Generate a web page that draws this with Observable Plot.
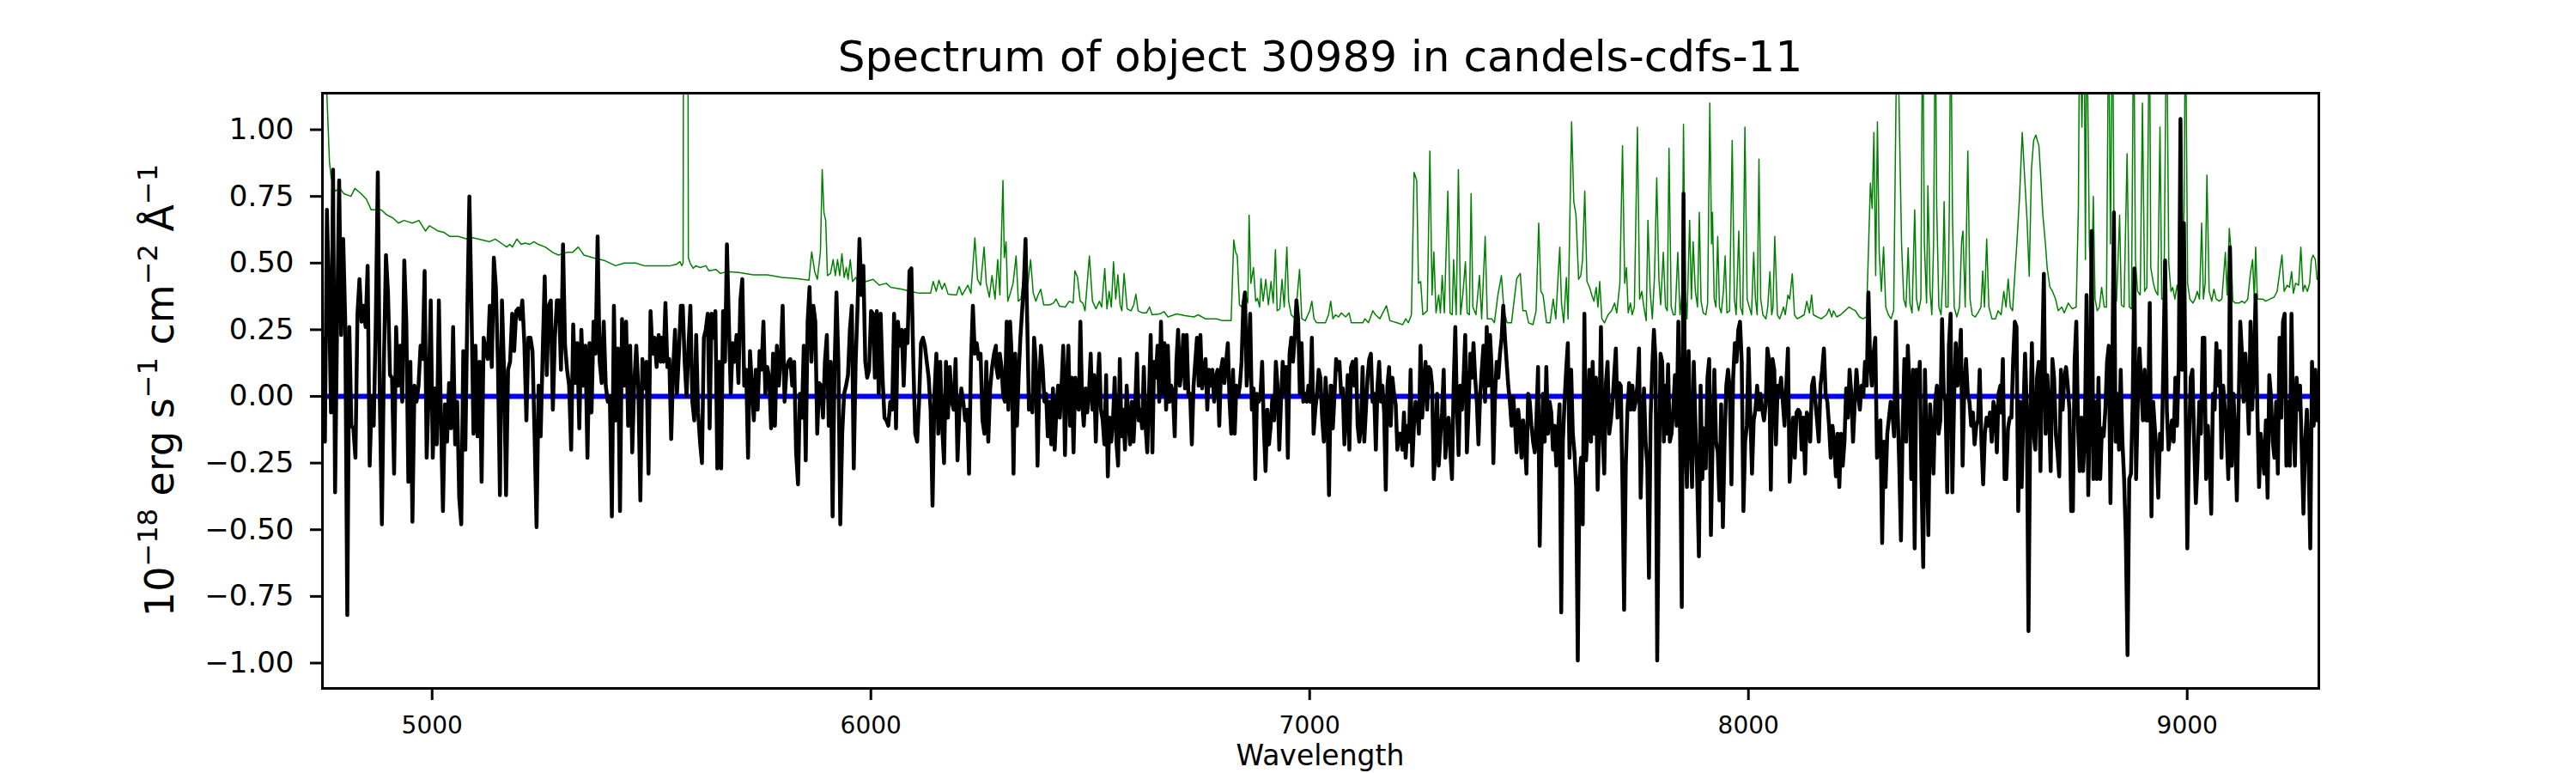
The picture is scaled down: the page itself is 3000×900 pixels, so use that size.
<!DOCTYPE html>
<html><head><meta charset="utf-8">
<script src="https://cdn.jsdelivr.net/npm/d3@7"></script>
<script src="https://cdn.jsdelivr.net/npm/@observablehq/plot@0.6"></script>
<style>html,body{margin:0;padding:0;background:#fff;} svg{display:block;}</style>
</head><body><div id="chart"></div>
<script>
const titleText = "Spectrum of object 30989 in candels-cdfs-11";
const xLabelText = "Wavelength";
const xTicks = [5000, 6000, 7000, 8000, 9000];
const yTicks = [-1, -0.75, -0.5, -0.25, 0, 0.25, 0.5, 0.75, 1];
const xDomain = [4750, 9300];
const yDomain = [-1.095, 1.137];
const zeroLevel = [0];

// wavelength span covered by each flux block (Å)
const segmentRanges = [[4751, 5521], [5523, 6285], [6286, 7048], [7049, 7811], [7813, 8574], [8576, 9300]];

const fluxA = [0.22,-0.17,0.70,0.38,-0.06,0.85,-0.36,0.28,0.81,0.23,0.59,0.28,-0.82,0.26,-0.11,-0.12,-0.23,0.31,0.44,0.28,0.34,0.26,0.49,-0.26,0.00,-0.11,0.28,0.84,-0.02,-0.48,0.13,0.53,0.39,0.08,0.07,-0.29,0.26,0.04,0.19,-0.02,0.51,0.28,-0.32,0.13,-0.47,0.04,-0.02,0.04,0.19,0.14,0.47,-0.23,0.01,0.36,-0.23,0.03,-0.18,0.36,-0.08,-0.43,-0.03,-0.17,0.05,-0.12,0.26,-0.18,-0.02,-0.38,-0.48,0.17,-0.20,0.33,0.75,0.34,-0.14,0.19,-0.15,0.13,-0.32,0.22,0.17,0.14,0.34,0.11,0.52,0.41,0.13,-0.37,0.36,0.10,-0.37,0.10,0.13,0.31,0.17,0.32,0.33,0.29,0.36,0.20,-0.09,0.22,0.22,0.17,-0.14,-0.49,0.04,-0.15,0.16,0.45,0.08,0.34,0.36,-0.05,0.22,0.36,0.36,0.10,0.57,0.19,0.10,0.04,-0.20,0.27,0.05,0.20,-0.12,0.25,0.04,0.19,-0.23,0.20,-0.06,0.28,0.16,0.60,0.13,0.05,0.28,0.04,-0.02,0.00,-0.45,0.34,-0.09,0.18,-0.43,0.29,0.04,0.28,-0.11,0.19,-0.21,0.05,0.19,0.03,-0.39,0.14,0.03,0.13,-0.29,0.32,0.16,0.22,0.11,0.23,0.13];
const fluxB = [0.22,0.13,0.35,0.11,0.14,-0.16,0.10,0.25,0.01,0.16,0.34,0.34,0.13,0.00,0.19,0.34,-0.02,-0.09,0.23,-0.06,-0.17,-0.25,0.22,0.25,0.31,-0.12,0.31,0.22,0.32,-0.27,0.13,-0.27,0.32,0.13,0.57,0.28,0.01,0.20,0.13,0.23,0.05,0.36,0.44,0.04,0.10,-0.23,0.17,0.04,-0.09,0.10,-0.05,0.17,0.10,0.28,0.01,0.11,0.07,-0.12,0.16,-0.11,0.19,0.04,0.14,0.34,-0.02,0.10,0.13,0.14,0.04,0.13,-0.21,-0.33,0.01,-0.08,0.19,-0.24,0.28,0.41,0.13,0.34,0.28,-0.14,0.05,0.04,-0.08,0.13,0.23,-0.11,0.13,-0.45,0.10,0.39,0.13,-0.48,-0.14,0.01,0.04,0.08,0.25,0.34,-0.27,0.13,0.34,0.59,0.38,0.49,0.13,0.07,0.10,0.32,0.31,0.07,0.32,0.01,0.31,0.07,-0.08,-0.09,-0.11,-0.02,-0.05,0.31,-0.12,0.28,0.19,0.25,0.04,0.25,0.20,0.47,0.48,0.13,-0.14,-0.17,-0.02,0.20,0.22,0.19,0.13,0.07,-0.05,-0.41,0.01,0.16,-0.14,0.13,-0.11,-0.25,0.13,-0.08,0.11,-0.02,-0.05,0.14,-0.24,-0.05,0.03,-0.02,-0.09,-0.05,-0.29,0.13,0.34,0.16,0.20,0.14,0.16,-0.09,-0.14,0.13,-0.17,0.03,0.11,0.16,0.19];
const fluxC = [0.11,0.07,0.16,0.11,0.00,-0.02,0.28,-0.05,0.28,0.14,-0.29,0.16,-0.11,0.08,0.22,0.32,0.42,0.59,0.28,-0.05,-0.02,-0.06,0.22,0.13,-0.26,0.04,0.19,0.11,-0.02,0.01,-0.15,-0.02,-0.18,0.03,-0.20,-0.05,0.04,-0.08,0.04,0.19,-0.22,0.05,0.19,-0.11,0.07,-0.21,0.07,-0.02,-0.05,0.28,-0.02,-0.11,0.03,-0.06,0.01,0.16,-0.05,0.08,-0.17,0.04,0.16,-0.05,-0.09,-0.18,0.08,-0.30,-0.08,-0.17,-0.09,0.07,-0.17,-0.26,0.14,-0.15,-0.05,-0.20,0.04,-0.09,-0.18,-0.02,-0.17,-0.03,0.16,-0.09,-0.05,-0.12,0.11,-0.11,-0.21,0.01,0.23,-0.21,0.13,0.07,0.19,-0.02,0.28,0.01,0.20,-0.05,0.19,-0.02,0.04,0.01,-0.15,0.13,0.25,0.04,0.10,0.23,0.03,0.23,0.00,0.01,-0.18,0.04,0.13,0.22,0.04,0.23,0.03,0.10,0.14,-0.05,0.10,0.04,0.10,-0.02,0.07,0.10,-0.11,0.10,0.14,0.05,0.13,0.20,-0.02,-0.14,0.10,-0.14,0.04,0.00,0.04,0.13,0.34,0.39,0.04,0.13,0.31,-0.05,0.03,-0.31,0.01,-0.02,0.00,0.13,-0.12,-0.28,-0.05,-0.18,-0.11,0.00,-0.09,0.13,0.04,-0.20,-0.02,0.13,0.01,0.11,-0.23,0.16,0.22,0.13,0.22,0.36,0.29,0.01,0.20,-0.02,0.01,-0.02,0.04,-0.02,0.22,-0.14,-0.05,0.01,0.10,0.07,-0.08,-0.17,0.07,-0.05,-0.37,0.04];
const fluxD = [0.04,-0.12,0.00,0.14,0.10,0.13,0.01,0.03,-0.18,-0.06,0.08,-0.20,0.11,0.13,0.04,0.14,-0.11,-0.17,-0.11,0.11,-0.17,-0.05,0.07,0.14,0.16,-0.02,0.01,-0.20,0.04,0.13,-0.02,0.04,-0.06,-0.35,0.04,0.11,-0.11,0.07,0.01,-0.03,-0.20,-0.14,-0.14,-0.20,-0.06,-0.23,-0.11,-0.17,0.10,-0.26,-0.11,-0.02,-0.05,-0.14,0.19,-0.08,0.04,0.13,-0.05,0.11,0.10,0.04,-0.31,-0.20,0.01,-0.26,-0.15,-0.06,0.10,-0.23,-0.12,-0.08,-0.21,-0.31,0.04,0.26,-0.05,-0.22,0.04,-0.05,0.07,0.23,-0.21,-0.05,0.16,0.07,0.20,0.07,-0.02,-0.18,0.00,0.10,0.19,-0.02,0.26,0.04,0.23,0.10,-0.25,0.00,0.13,0.07,0.16,0.22,0.34,0.22,0.13,0.04,-0.02,-0.11,0.00,-0.09,-0.21,-0.05,-0.11,-0.23,-0.09,-0.17,-0.29,0.01,-0.02,-0.11,-0.17,-0.21,-0.09,0.11,-0.56,-0.21,0.01,-0.17,0.11,-0.14,-0.02,-0.06,-0.20,-0.11,-0.26,-0.14,-0.03,-0.81,-0.17,-0.02,0.10,0.20,-0.23,0.10,-0.14,-0.21,-0.34,-0.99,-0.31,-0.23,-0.48,0.31,-0.24,-0.11,0.10,-0.17,0.13,-0.14,0.07,-0.35,-0.11,0.26,-0.14,-0.29,0.05,0.13,-0.14,-0.09,-0.02,0.08,0.18,-0.08,0.05,0.04,-0.33,-0.80,-0.26,-0.05,0.05,-0.05,0.04,-0.05,-0.02,0.04,0.18,-0.38,-0.14,0.03,-0.17,-0.26,-0.68,-0.08,0.11,0.25,0.13,-0.99,-0.31,0.16,0.13,-0.17,0.04];
const fluxE = [-0.14,0.12,-0.17,-0.14,-0.05,0.08,-0.11,0.28,-0.14,-0.79,0.76,-0.14,-0.34,0.17,-0.14,-0.34,0.13,-0.11,-0.31,-0.60,0.04,-0.31,-0.12,-0.27,0.07,0.14,-0.52,-0.17,0.10,-0.17,-0.21,-0.39,-0.03,-0.49,-0.17,0.04,0.10,0.03,-0.33,0.07,0.20,0.13,0.25,0.28,0.13,-0.43,-0.17,-0.11,0.18,-0.06,-0.29,-0.09,-0.05,0.04,-0.05,0.01,-0.05,-0.09,-0.03,0.18,0.13,-0.35,0.14,0.10,-0.18,0.04,0.01,0.07,-0.02,-0.11,0.04,0.18,-0.32,-0.17,-0.08,-0.23,-0.06,-0.05,-0.06,-0.20,-0.08,-0.29,-0.06,-0.08,-0.17,0.04,0.07,-0.02,-0.09,-0.17,0.04,0.10,0.18,0.01,-0.02,-0.11,-0.23,-0.11,-0.17,-0.30,-0.14,-0.34,-0.14,-0.26,-0.17,0.03,-0.08,0.10,0.01,-0.17,-0.03,0.10,0.01,-0.05,0.04,0.00,0.13,0.04,0.39,0.13,0.04,0.16,0.22,-0.23,-0.11,-0.09,-0.55,-0.17,-0.34,-0.14,-0.08,-0.02,-0.06,-0.15,0.28,-0.03,-0.26,-0.54,-0.11,0.14,-0.17,0.19,0.03,-0.31,0.10,-0.57,0.10,0.01,0.13,-0.31,-0.64,0.10,-0.20,-0.52,-0.03,-0.14,-0.29,-0.02,0.04,-0.14,-0.09,0.29,0.01,-0.02,-0.36,0.19,0.31,-0.36,-0.02,0.20,0.04,0.13,0.25,-0.26,0.04,0.14,0.01,-0.02,-0.11,-0.06,-0.18,-0.11,-0.09,0.10,-0.17,-0.33,-0.14,-0.08,-0.11,-0.06,-0.17,-0.02,-0.05,-0.21,0.01,0.04];
const fluxF = [-0.06,0.14,-0.31,-0.31,-0.12,-0.08,-0.08,0.13,0.28,0.26,-0.43,-0.02,-0.34,-0.06,0.16,-0.05,-0.88,-0.12,0.20,-0.14,-0.20,0.07,0.13,-0.28,0.14,0.46,-0.14,0.08,-0.05,-0.28,0.14,0.07,-0.14,-0.21,-0.30,0.10,-0.05,0.07,0.11,0.04,-0.05,-0.43,-0.43,0.13,0.28,-0.11,-0.28,-0.08,-0.28,-0.14,0.38,-0.37,-0.05,0.62,-0.31,-0.02,-0.31,0.07,-0.31,-0.12,-0.15,-0.05,0.13,0.19,-0.40,0.05,0.69,-0.17,0.01,-0.20,0.10,-0.17,-0.31,-0.54,-0.97,-0.31,-0.29,-0.02,0.48,-0.31,-0.02,0.18,0.04,-0.09,0.10,-0.09,-0.09,0.35,-0.45,-0.02,-0.12,-0.21,-0.38,-0.14,-0.20,0.13,0.51,-0.05,-0.20,-0.14,-0.09,-0.17,0.07,-0.11,0.13,1.04,0.10,0.65,-0.02,-0.57,-0.17,0.07,0.10,-0.17,-0.40,-0.24,-0.02,-0.14,0.22,0.22,-0.31,-0.11,-0.23,-0.44,0.01,-0.05,0.20,0.04,0.17,-0.23,0.04,-0.05,-0.14,-0.31,0.56,-0.26,0.01,-0.14,-0.39,-0.05,0.28,0.16,-0.02,0.16,0.04,-0.14,0.28,-0.05,0.13,0.38,-0.05,-0.34,-0.14,-0.21,-0.29,-0.09,-0.38,0.08,0.00,-0.17,-0.23,-0.02,-0.29,0.22,-0.08,0.28,0.31,-0.26,-0.02,-0.26,0.31,-0.09,-0.26,0.07,-0.05,0.04,-0.20,-0.44,-0.17,-0.05,-0.24,-0.57,0.13,-0.11,0.10,-0.09,0.07];

// noise (error) spectrum: [wavelength, value]
const noisePairs = [
[4751,1.60],[4760,1.14],[4766,0.88],[4770,0.82],[4779,0.77],[4790,0.78],[4799,0.76],[4815,0.75],[4824,0.78],[4838,0.76],[4850,0.74],[4861,0.70],[4871,0.70],[4884,0.70],[4897,0.68],[4910,0.67],[4923,0.65],[4936,0.66],[4945,0.655],[4955,0.65],[4970,0.66],[4985,0.62],[4994,0.64],[5014,0.62],[5027,0.615],[5040,0.60],[5060,0.60],[5079,0.59],[5092,0.595],[5105,0.59],[5131,0.58],[5144,0.59],[5157,0.575],[5170,0.56],[5177,0.57],[5183,0.56],[5193,0.59],[5203,0.57],[5212,0.575],[5222,0.57],[5232,0.58],[5242,0.57],[5258,0.56],[5275,0.54],[5288,0.53],[5307,0.54],[5320,0.54],[5333,0.56],[5346,0.53],[5366,0.52],[5392,0.51],[5418,0.49],[5438,0.50],[5464,0.50],[5483,0.49],[5503,0.49],[5523,0.49],[5543,0.49],[5556,0.495],[5565,0.505],[5569,0.49],[5572,0.50],[5574,2.5],[5582,2.5],[5584,0.52],[5588,0.50],[5595,0.48],[5601,0.49],[5611,0.483],[5624,0.49],[5631,0.471],[5647,0.476],[5657,0.461],[5673,0.468],[5699,0.465],[5732,0.456],[5764,0.456],[5797,0.446],[5829,0.442],[5859,0.436],[5865,0.542],[5872,0.468],[5878,0.439],[5885,0.542],[5889,0.85],[5893,0.69],[5897,0.66],[5901,0.453],[5908,0.461],[5914,0.513],[5919,0.453],[5924,0.513],[5929,0.453],[5934,0.535],[5939,0.446],[5944,0.483],[5948,0.439],[5953,0.513],[5958,0.431],[5966,0.446],[5972,0.424],[5979,0.439],[5989,0.431],[6005,0.439],[6019,0.417],[6035,0.424],[6045,0.409],[6071,0.402],[6090,0.394],[6110,0.387],[6136,0.387],[6142,0.431],[6149,0.394],[6155,0.436],[6162,0.402],[6168,0.424],[6176,0.383],[6195,0.380],[6201,0.412],[6208,0.380],[6221,0.417],[6228,0.387],[6237,0.594],[6243,0.439],[6250,0.417],[6258,0.560],[6263,0.424],[6270,0.372],[6276,0.453],[6283,0.365],[6289,0.513],[6294,0.380],[6301,0.81],[6304,0.52],[6308,0.58],[6312,0.357],[6319,0.394],[6324,0.424],[6331,0.527],[6336,0.357],[6342,0.365],[6346,0.417],[6350,0.394],[6358,0.424],[6364,0.513],[6370,0.387],[6376,0.357],[6381,0.380],[6387,0.402],[6394,0.343],[6407,0.343],[6416,0.350],[6422,0.365],[6430,0.338],[6443,0.335],[6452,0.357],[6461,0.350],[6465,0.471],[6471,0.446],[6477,0.357],[6483,0.350],[6488,0.321],[6498,0.527],[6505,0.357],[6513,0.328],[6521,0.357],[6526,0.335],[6533,0.480],[6538,0.328],[6543,0.394],[6548,0.335],[6553,0.505],[6558,0.365],[6563,0.456],[6568,0.343],[6572,0.321],[6577,0.461],[6584,0.328],[6593,0.321],[6599,0.343],[6604,0.383],[6609,0.321],[6619,0.313],[6628,0.313],[6635,0.335],[6641,0.306],[6658,0.309],[6668,0.318],[6677,0.298],[6697,0.309],[6716,0.303],[6736,0.298],[6746,0.306],[6762,0.291],[6788,0.291],[6801,0.284],[6821,0.284],[6827,0.586],[6831,0.542],[6835,0.527],[6840,0.343],[6845,0.335],[6852,0.394],[6859,0.350],[6862,0.68],[6866,0.424],[6872,0.483],[6877,0.357],[6881,0.368],[6886,0.335],[6889,0.442],[6894,0.357],[6900,0.439],[6906,0.343],[6912,0.431],[6917,0.350],[6922,0.55],[6926,0.321],[6932,0.328],[6937,0.439],[6942,0.335],[6948,0.56],[6952,0.357],[6958,0.306],[6967,0.291],[6977,0.476],[6982,0.291],[6990,0.284],[7000,0.321],[7005,0.357],[7010,0.291],[7016,0.276],[7026,0.276],[7036,0.276],[7043,0.306],[7048,0.357],[7053,0.291],[7059,0.306],[7066,0.298],[7072,0.313],[7082,0.298],[7090,0.313],[7095,0.276],[7108,0.276],[7121,0.276],[7126,0.291],[7134,0.276],[7144,0.321],[7150,0.306],[7160,0.291],[7175,0.34],[7183,0.284],[7199,0.276],[7212,0.269],[7219,0.291],[7225,0.276],[7232,0.306],[7238,0.84],[7244,0.81],[7248,0.424],[7253,0.431],[7258,0.306],[7268,0.321],[7274,0.92],[7279,0.380],[7283,0.542],[7288,0.313],[7294,0.380],[7298,0.313],[7302,0.453],[7307,0.313],[7315,0.77],[7320,0.313],[7325,0.306],[7328,0.513],[7334,0.306],[7339,0.85],[7344,0.306],[7349,0.380],[7355,0.505],[7359,0.313],[7364,0.306],[7368,0.76],[7372,0.335],[7379,0.306],[7387,0.453],[7392,0.291],[7400,0.60],[7405,0.291],[7415,0.291],[7421,0.276],[7429,0.380],[7437,0.453],[7443,0.321],[7450,0.276],[7460,0.276],[7472,0.442],[7480,0.461],[7486,0.321],[7493,0.321],[7499,0.276],[7509,0.269],[7516,0.321],[7522,0.65],[7527,0.394],[7532,0.380],[7540,0.276],[7548,0.276],[7555,0.365],[7561,0.291],[7570,0.56],[7574,0.350],[7579,0.276],[7585,0.446],[7589,0.291],[7597,1.03],[7602,0.73],[7607,0.68],[7613,0.439],[7618,0.453],[7622,0.513],[7627,0.77],[7632,0.431],[7638,0.409],[7643,0.380],[7648,0.357],[7653,0.409],[7657,0.335],[7661,0.431],[7666,0.291],[7672,0.276],[7680,0.306],[7688,0.321],[7695,0.350],[7700,0.313],[7707,0.424],[7713,0.94],[7718,0.424],[7722,0.483],[7726,0.313],[7731,0.350],[7735,0.306],[7740,0.335],[7747,1.01],[7752,0.365],[7757,0.394],[7761,0.343],[7767,0.284],[7771,0.66],[7776,0.394],[7781,0.291],[7786,0.453],[7791,0.82],[7796,0.439],[7800,0.343],[7806,0.54],[7811,0.335],[7815,0.321],[7819,0.93],[7824,0.335],[7829,0.306],[7833,0.306],[7839,0.54],[7844,0.306],[7849,0.394],[7852,1.02],[7856,0.394],[7860,0.291],[7866,0.66],[7870,0.365],[7874,0.58],[7879,0.394],[7884,0.335],[7888,0.69],[7892,0.357],[7897,0.313],[7903,0.306],[7907,0.350],[7912,1.10],[7916,0.572],[7918,0.69],[7922,0.365],[7926,0.335],[7930,0.60],[7934,0.335],[7938,0.313],[7943,0.394],[7947,0.527],[7951,0.313],[7957,0.321],[7963,0.96],[7968,0.365],[7972,0.306],[7978,0.62],[7982,0.335],[7987,0.306],[7992,1.01],[7997,0.365],[8002,0.335],[8007,0.306],[8012,0.54],[8016,0.365],[8020,0.306],[8024,0.89],[8028,0.365],[8033,0.306],[8040,0.291],[8044,0.335],[8049,0.468],[8053,0.306],[8056,0.335],[8060,0.60],[8066,0.306],[8071,0.291],[8076,0.313],[8080,0.335],[8084,0.306],[8090,0.380],[8094,0.365],[8100,0.46],[8105,0.306],[8111,0.291],[8119,0.298],[8127,0.306],[8133,0.357],[8139,0.313],[8144,0.380],[8148,0.306],[8157,0.298],[8166,0.291],[8178,0.306],[8184,0.328],[8190,0.298],[8194,0.321],[8201,0.298],[8210,0.306],[8220,0.321],[8229,0.335],[8236,0.328],[8244,0.321],[8253,0.298],[8261,0.291],[8269,0.298],[8274,0.572],[8278,0.80],[8282,0.705],[8286,0.99],[8290,0.453],[8294,1.03],[8298,0.542],[8303,0.394],[8308,0.56],[8313,0.335],[8319,0.306],[8325,0.291],[8331,0.321],[8339,1.5],[8346,0.84],[8349,0.572],[8354,0.365],[8359,0.335],[8364,0.557],[8368,0.350],[8373,0.313],[8379,0.70],[8383,0.365],[8388,0.321],[8393,0.365],[8397,1.5],[8401,0.572],[8406,0.350],[8409,0.79],[8414,0.394],[8418,0.306],[8422,0.572],[8426,1.5],[8429,0.72],[8434,0.335],[8439,0.306],[8443,0.453],[8446,0.73],[8450,0.335],[8455,0.335],[8458,0.72],[8461,1.5],[8465,0.69],[8469,0.335],[8475,0.298],[8481,0.335],[8486,0.586],[8489,0.62],[8494,0.335],[8500,0.92],[8505,0.365],[8510,0.306],[8517,0.298],[8523,0.313],[8530,0.335],[8534,0.47],[8538,0.335],[8543,0.59],[8548,0.335],[8555,0.291],[8563,0.291],[8569,0.321],[8576,0.306],[8582,0.394],[8587,0.335],[8592,0.44],[8597,0.335],[8602,0.321],[8607,0.453],[8612,0.58],[8618,0.75],[8624,0.99],[8629,0.84],[8635,0.66],[8640,0.45],[8645,0.85],[8650,0.96],[8655,0.98],[8662,0.94],[8666,0.83],[8671,0.68],[8677,0.57],[8681,0.48],[8687,0.41],[8693,0.394],[8700,0.365],[8706,0.321],[8714,0.335],[8720,0.313],[8729,0.350],[8738,0.328],[8747,0.335],[8752,0.705],[8755,1.5],[8760,1.01],[8765,1.5],[8768,0.513],[8771,1.5],[8777,0.572],[8782,0.394],[8786,0.75],[8790,0.365],[8795,0.321],[8800,0.335],[8805,0.409],[8811,0.335],[8816,0.335],[8821,1.5],[8825,0.572],[8830,1.5],[8834,0.365],[8839,0.357],[8846,0.68],[8850,0.343],[8856,0.335],[8863,0.91],[8868,0.335],[8873,0.328],[8878,1.5],[8882,0.513],[8887,0.394],[8893,0.380],[8898,1.10],[8903,0.394],[8908,0.409],[8914,1.5],[8917,0.483],[8923,0.424],[8928,0.394],[8933,0.380],[8938,1.01],[8942,0.365],[8947,0.365],[8953,1.5],[8958,0.498],[8963,0.394],[8967,0.409],[8972,0.365],[8977,0.417],[8982,0.365],[8988,0.394],[8993,0.705],[8996,1.5],[9001,0.424],[9006,0.365],[9013,0.350],[9018,0.365],[9023,0.394],[9028,0.365],[9033,0.65],[9037,0.365],[9041,0.424],[9045,0.83],[9050,0.394],[9056,0.357],[9061,0.402],[9066,0.365],[9073,0.357],[9079,0.365],[9087,0.54],[9091,0.380],[9096,0.63],[9100,0.542],[9104,0.357],[9110,0.350],[9118,0.350],[9125,0.357],[9131,0.350],[9138,0.365],[9144,0.46],[9149,0.513],[9153,0.365],[9156,0.56],[9160,0.365],[9166,0.365],[9172,0.365],[9179,0.357],[9189,0.365],[9198,0.372],[9205,0.394],[9211,0.468],[9216,0.53],[9221,0.394],[9228,0.417],[9233,0.409],[9238,0.468],[9242,0.387],[9247,0.424],[9254,0.417],[9259,0.56],[9264,0.394],[9268,0.417],[9274,0.394],[9279,0.424],[9283,0.513],[9287,0.53],[9292,0.513],[9296,0.439],[9301,0.439]
];

// ---- build tables ----
const fluxBlocks = [fluxA, fluxB, fluxC, fluxD, fluxE, fluxF];
const spectrum = fluxBlocks.flatMap((vals, k) => {
  const [lo, hi] = segmentRanges[k];
  return vals.map((f, i) => ({wave: lo + (hi - lo) * i / (vals.length - 1), flux: f}));
});
const noise = noisePairs.map(([wave, flux]) => ({wave, flux}));

const FONT = "DejaVu Sans";
const chart = Plot.plot({
  width: 3000,
  height: 900,
  marginLeft: 375,
  marginRight: 300,
  marginTop: 108,
  marginBottom: 99,
  style: {fontFamily: FONT, background: "white", color: "black", overflow: "visible"},
  x: {domain: xDomain},
  y: {domain: yDomain},
  marks: [
    Plot.line(noise, {x: "wave", y: "flux", stroke: "green", strokeWidth: 1.5, clip: true}),
    Plot.ruleY(zeroLevel, {stroke: "blue", strokeWidth: 6}),
    Plot.line(spectrum, {x: "wave", y: "flux", stroke: "black", strokeWidth: 4.5, clip: true}),
    Plot.frame({stroke: "black", strokeWidth: 3}),
    Plot.axisX({ticks: xTicks, tickFormat: d3.format("d"), tickSize: 14, tickPadding: 19, fontSize: 28, strokeWidth: 3, label: null}),
    Plot.axisY({ticks: yTicks, tickFormat: d3.format(".2f"), tickSize: 14, tickPadding: 19, fontSize: 34, strokeWidth: 3, label: null})
  ]
});
document.getElementById("chart").appendChild(chart);

// ---- title and axis labels ----
const svg = d3.select(chart);
const cx = 375 + (3000 - 375 - 300) / 2;
svg.append("text")
  .attr("x", cx).attr("y", 83)
  .attr("text-anchor", "middle")
  .attr("font-family", FONT).attr("font-size", 50).attr("fill", "black")
  .text(titleText);
svg.append("text")
  .attr("x", cx).attr("y", 891)
  .attr("text-anchor", "middle")
  .attr("font-family", FONT).attr("font-size", 33).attr("fill", "black")
  .text(xLabelText);

const yLabelParts = [["10", false], ["−18", true], [" erg s", false], ["−1", true], [" cm", false], ["−2", true], [" Å", false], ["−1", true]];
const yl = svg.append("text")
  .attr("transform", `translate(202,${108 + (801 - 108) / 2}) rotate(-90)`)
  .attr("text-anchor", "middle")
  .attr("font-family", FONT).attr("font-size", 46).attr("fill", "black");
let raised = false;
for (const [t, sup] of yLabelParts) {
  const ts = yl.append("tspan").text(t);
  if (sup) { ts.attr("font-size", 32).attr("dy", raised ? 0 : -19); raised = true; }
  else { ts.attr("font-size", 46).attr("dy", raised ? 19 : 0); raised = false; }
}
</script>
</body></html>
